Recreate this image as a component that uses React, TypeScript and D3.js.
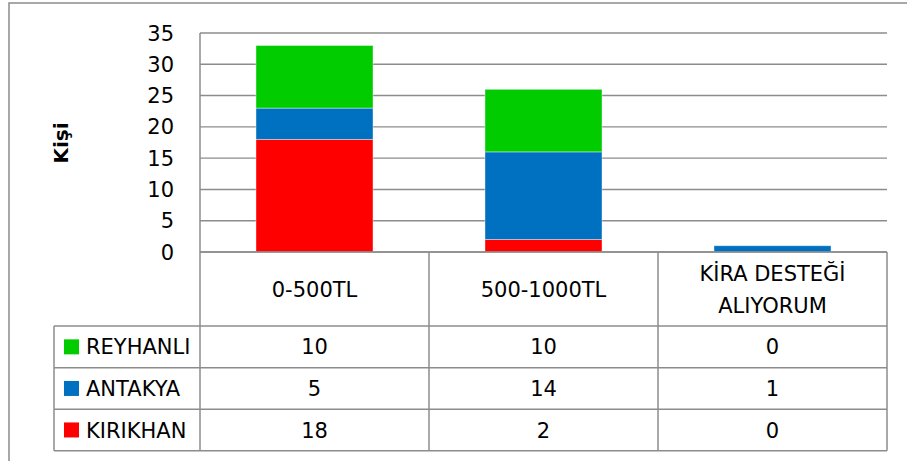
import React from "react";
import * as d3 from "d3";

const categories = ["0-500TL", "500-1000TL", "KİRA DESTEĞİ ALIYORUM"];
const categoryLines = [["0-500TL"], ["500-1000TL"], ["KİRA DESTEĞİ", "ALIYORUM"]];
const seriesNames = ["REYHANLI", "ANTAKYA", "KIRIKHAN"];
const reyhanli = [10, 10, 0];
const antakya = [5, 14, 1];
const kirikhan = [18, 2, 0];
const yTicks = [0, 5, 10, 15, 20, 25, 30, 35];
const yTitle = "Kişi";
const colors: Record<string, string> = { REYHANLI: "#00CC00", ANTAKYA: "#0070C0", KIRIKHAN: "#FF0000" };

const FONT = "'DejaVu Sans', sans-serif";
const GRID = "#8c8c8c";
const FS = 21;

export default function App() {
  const left = 200, right = 887, top = 33, bottom = 252;
  const rows = [326, 367.7, 409.2, 450.7];
  const tableLeft = 54;

  const x = d3.scaleBand<string>().domain(categories).range([left, right]).paddingInner(0.489).paddingOuter(0.2445);
  const y = d3.scaleLinear().domain([0, 35]).range([bottom, top]);

  const data = categories.map((c, i) => ({ cat: c, REYHANLI: reyhanli[i], ANTAKYA: antakya[i], KIRIKHAN: kirikhan[i] }));
  const stack = d3.stack<any>().keys(["KIRIKHAN", "ANTAKYA", "REYHANLI"]);
  const layers = stack(data);
  const seriesValues: Record<string, number[]> = { REYHANLI: reyhanli, ANTAKYA: antakya, KIRIKHAN: kirikhan };

  const colBounds = [left, ...categories.map((c) => (x(c) as number) + x.bandwidth() / 2 + x.step() / 2)];

  return (
    <svg width={907} height={461} style={{ position: "absolute", left: 0, top: 0, background: "#fff" }} fontFamily={FONT}>
      <rect x={9} y={3} width={920} height={480} fill="#fff" stroke={GRID} strokeWidth={1.5} />
      {yTicks.map((t) => (
        <line key={t} x1={left} x2={right} y1={y(t)} y2={y(t)} stroke={GRID} strokeWidth={1.4} />
      ))}
      {yTicks.map((t) => (
        <text key={"l" + t} x={174} y={y(t)} dy="0.36em" textAnchor="end" fontSize={FS} fill="#000">
          {t}
        </text>
      ))}
      <text transform={`translate(${68},${143}) rotate(-90)`} textAnchor="middle" fontSize={20} fontWeight="bold" fill="#000">
        {yTitle}
      </text>
      {layers.map((layer) =>
        layer.map((d, i) => (
          <rect
            key={layer.key + i}
            x={x(categories[i])}
            width={x.bandwidth()}
            y={y(d[1])}
            height={Math.max(0, y(d[0]) - y(d[1]))}
            fill={colors[layer.key]}
            stroke="#ffffff"
            strokeOpacity={0.5}
            strokeWidth={0.8}
          />
        ))
      )}
      <line x1={left} x2={left} y1={top} y2={rows[3]} stroke={GRID} strokeWidth={1.5} />
      <line x1={left} x2={right} y1={bottom} y2={bottom} stroke={GRID} strokeWidth={1.5} />
      {colBounds.slice(1).map((cx, i) => (
        <line key={"v" + i} x1={cx} x2={cx} y1={bottom} y2={rows[3]} stroke={GRID} strokeWidth={1.5} />
      ))}
      <line x1={tableLeft} x2={tableLeft} y1={rows[0]} y2={rows[3]} stroke={GRID} strokeWidth={1.5} />
      {rows.map((r, i) => (
        <line key={"h" + i} x1={tableLeft} x2={right} y1={r} y2={r} stroke={GRID} strokeWidth={1.5} />
      ))}
      {categoryLines.map((lines, i) => {
        const cx = (x(categories[i]) as number) + x.bandwidth() / 2;
        const cy = (bottom + rows[0]) / 2;
        const lh = 32;
        return (
          <text key={"c" + i} textAnchor="middle" fontSize={FS} fill="#000">
            {lines.map((ln, j) => (
              <tspan key={j} x={cx} y={cy + (j - (lines.length - 1) / 2) * lh} dy="0.36em">
                {ln}
              </tspan>
            ))}
          </text>
        );
      })}
      {seriesNames.map((s, ri) => {
        const cy = (rows[ri] + rows[ri + 1]) / 2;
        return (
          <g key={s}>
            <rect x={64} y={cy - 7.5} width={15} height={15} fill={colors[s]} />
            <text x={86} y={cy} dy="0.36em" fontSize={FS} fill="#000">
              {s}
            </text>
            {seriesValues[s].map((v, ci) => (
              <text
                key={ci}
                x={(x(categories[ci]) as number) + x.bandwidth() / 2}
                y={cy}
                dy="0.36em"
                textAnchor="middle"
                fontSize={FS}
                fill="#000"
              >
                {v}
              </text>
            ))}
          </g>
        );
      })}
    </svg>
  );
}
